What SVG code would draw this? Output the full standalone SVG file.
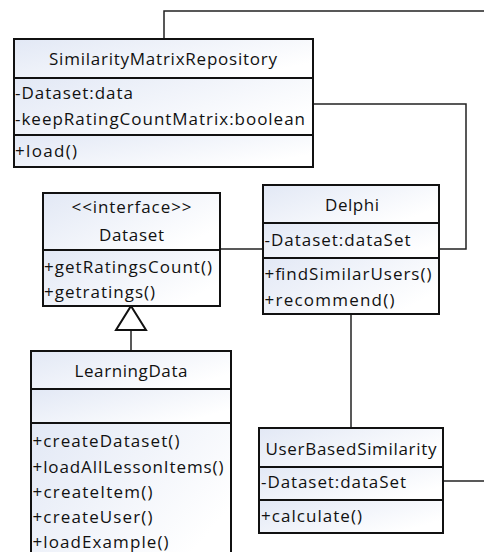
<svg xmlns="http://www.w3.org/2000/svg" width="484" height="552" viewBox="0 0 484 552">
  <defs>
    <linearGradient id="compFill" x1="0" y1="0" x2="1" y2="0.6">
      <stop offset="0" stop-color="#e2e8f5"/>
      <stop offset="1" stop-color="#ffffff"/>
    </linearGradient>
    <style>
      .comp { fill: url(#compFill); stroke: #111; stroke-width: 2; }
      .txt { font-family: "Open Sans", Lato, "Liberation Sans", sans-serif; font-size: 17px; fill: #111; }
      .mid { text-anchor: middle; }
      .conn { fill: none; stroke: #222; stroke-width: 1.5; }
      .gen { fill: #fff; stroke: #111; stroke-width: 2; }
    </style>
  </defs>
  <rect width="484" height="552" fill="#fff"/>

  <!-- connectors -->
  <g id="connectors">
    <polyline class="conn" points="164,39 164,11 484,11"/>
    <polyline class="conn" points="313,104 466,104 466,249 439,249"/>
    <line class="conn" x1="220" y1="249" x2="263" y2="249"/>
    <line class="conn" x1="351" y1="314" x2="351" y2="428"/>
    <line class="conn" x1="443" y1="481" x2="484" y2="481"/>
    <line class="conn" x1="131" y1="330" x2="131" y2="351"/>
    <polygon class="gen" points="131,306 146,330 116,330"/>
  </g>

  <!-- SimilarityMatrixRepository -->
  <g id="SimilarityMatrixRepository">
    <rect class="comp" x="14" y="39" width="299" height="39"/>
    <rect class="comp" x="14" y="78" width="299" height="57"/>
    <rect class="comp" x="14" y="135" width="299" height="32"/>
    <text class="txt mid" x="163" y="65" textLength="228">SimilarityMatrixRepository</text>
    <text class="txt" x="15" y="99" textLength="118">-Dataset:data</text>
    <text class="txt" x="15" y="125" textLength="290">-keepRatingCountMatrix:boolean</text>
    <text class="txt" x="15" y="157" textLength="62">+load()</text>
  </g>

  <!-- Dataset interface -->
  <g id="Dataset">
    <rect class="comp" x="43" y="193" width="177" height="57"/>
    <rect class="comp" x="43" y="250" width="177" height="56"/>
    <text class="txt mid" x="131.5" y="213" textLength="120">&lt;&lt;interface&gt;&gt;</text>
    <text class="txt mid" x="131.5" y="241" textLength="65">Dataset</text>
    <text class="txt" x="44" y="273" textLength="168">+getRatingsCount()</text>
    <text class="txt" x="44" y="298" textLength="111">+getratings()</text>
  </g>

  <!-- Delphi -->
  <g id="Delphi">
    <rect class="comp" x="263" y="185" width="176" height="38"/>
    <rect class="comp" x="263" y="223" width="176" height="35"/>
    <rect class="comp" x="263" y="258" width="176" height="56"/>
    <text class="txt mid" x="352" y="211" textLength="54">Delphi</text>
    <text class="txt" x="264.5" y="246" textLength="146">-Dataset:dataSet</text>
    <text class="txt" x="264.5" y="280" textLength="167">+findSimilarUsers()</text>
    <text class="txt" x="264.5" y="306" textLength="130">+recommend()</text>
  </g>

  <!-- LearningData -->
  <g id="LearningData">
    <rect class="comp" x="31" y="351" width="200" height="38"/>
    <rect class="comp" x="31" y="389" width="200" height="34"/>
    <rect class="comp" x="31" y="423" width="200" height="140"/>
    <text class="txt mid" x="131" y="377" textLength="113">LearningData</text>
    <text class="txt" x="32.5" y="447" textLength="147">+createDataset()</text>
    <text class="txt" x="32.5" y="473" textLength="191">+loadAllLessonItems()</text>
    <text class="txt" x="32.5" y="498" textLength="120">+createItem()</text>
    <text class="txt" x="32.5" y="523" textLength="120">+createUser()</text>
    <text class="txt" x="32.5" y="548" textLength="136">+loadExample()</text>
  </g>

  <!-- UserBasedSimilarity -->
  <g id="UserBasedSimilarity">
    <rect class="comp" x="259" y="428" width="184" height="39"/>
    <rect class="comp" x="259" y="467" width="184" height="33"/>
    <rect class="comp" x="259" y="500" width="184" height="33"/>
    <text class="txt mid" x="351" y="455" textLength="171">UserBasedSimilarity</text>
    <text class="txt" x="261" y="488" textLength="145">-Dataset:dataSet</text>
    <text class="txt" x="261" y="522" textLength="101">+calculate()</text>
  </g>
</svg>
